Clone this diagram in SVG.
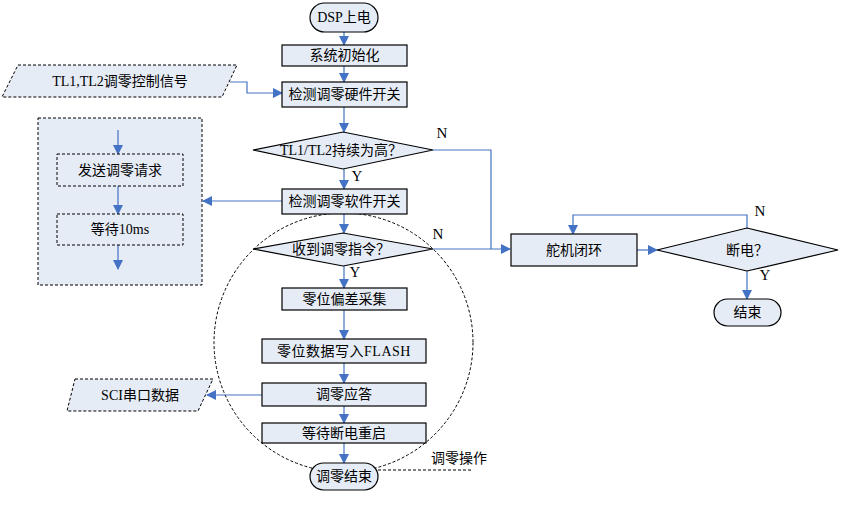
<svg xmlns="http://www.w3.org/2000/svg" width="857" height="508" viewBox="0 0 857 508">
<defs>
<marker id="ah" markerWidth="10" markerHeight="10" refX="9" refY="5" orient="auto" markerUnits="userSpaceOnUse">
<path d="M0,0 L10,5 L0,10 Z" fill="#4472C4"/>
</marker>
<style>
.n{fill:#E6ECF6;stroke:#000;stroke-width:1.2}
.d{fill:#E6ECF6;stroke:#000;stroke-width:1;stroke-dasharray:3,2}
.c{fill:none;stroke:#4472C4;stroke-width:1.2}
.a{marker-end:url(#ah)}
text{font-family:"Liberation Serif","Noto Sans CJK SC",serif;font-size:14px;fill:#000;text-anchor:middle;dominant-baseline:central}
.l{font-size:15px}
</style>
</defs>
<rect width="857" height="508" fill="#fff"/>
<g id="zero-region">
<circle cx="343.5" cy="342.5" r="129.5" fill="none" stroke="#000" stroke-width="1" stroke-dasharray="3,2"/>
<line x1="378" y1="470" x2="473" y2="470" stroke="#000" stroke-width="1" stroke-dasharray="3,2"/>
<text x="459" y="458">调零操作</text>
</g>
<g id="left-box">
<rect class="d" x="38" y="118" width="164" height="167"/>
</g>
<g id="connectors">
<path class="c a" d="M344,32 V45"/>
<path class="c a" d="M344,66 V82"/>
<path class="c a" d="M230,82 H247 V93 H282"/>
<path class="c a" d="M344,107 V132"/>
<path class="c a" d="M344,169 V189"/>
<path class="c a" d="M282,201 H203"/>
<path class="c a" d="M344,214 V233"/>
<path class="c" d="M433,150 H491 V249"/>
<path class="c a" d="M433,249 H510"/>
<path class="c a" d="M344,266 V288"/>
<path class="c a" d="M344,310 V339"/>
<path class="c a" d="M344,363 V383"/>
<path class="c a" d="M262,395 H207"/>
<path class="c a" d="M344,406 V423"/>
<path class="c a" d="M344,443 V463"/>
<path class="c a" d="M637,250 H657"/>
<path class="c a" d="M747,228 V215 H573 V234"/>
<path class="c a" d="M747,271 V299"/>
<path class="c a" d="M118,130 V154"/>
<path class="c a" d="M118,186 V214"/>
<path class="c a" d="M118,245 V269"/>
<text class="l" x="442" y="133">N</text>
<text class="l" x="357" y="176">Y</text>
<text class="l" x="438" y="234">N</text>
<text class="l" x="355" y="272">Y</text>
<text class="l" x="760" y="211">N</text>
<text class="l" x="765" y="275">Y</text>
</g>
<g id="start">
<rect class="n" x="310" y="3" width="68" height="29" rx="14.5"/>
<text x="344" y="17.5">DSP上电</text>
</g>
<g id="init">
<rect class="n" x="282" y="45" width="125" height="21"/>
<text x="344.5" y="55.5">系统初始化</text>
</g>
<g id="hw-switch">
<rect class="n" x="282" y="82" width="125" height="25"/>
<text x="344.5" y="94.5">检测调零硬件开关</text>
</g>
<g id="tl-signal">
<polygon class="d" points="18,65 237,65 222,97 2,97"/>
<text x="120" y="81">TL1,TL2调零控制信号</text>
</g>
<g id="tl-high">
<polygon class="n" points="253,150 343,132 433,150 343,169"/>
<text x="341" y="150.5">TL1/TL2持续为高？</text>
</g>
<g id="sw-switch">
<rect class="n" x="282" y="189" width="125" height="25"/>
<text x="344.5" y="201.5">检测调零软件开关</text>
</g>
<g id="send-req">
<rect class="d" x="57" y="154" width="126" height="32"/>
<text x="120" y="170">发送调零请求</text>
</g>
<g id="wait10">
<rect class="d" x="57" y="214" width="126" height="31"/>
<text x="120" y="229.5">等待10ms</text>
</g>
<g id="recv-cmd">
<polygon class="n" points="253,249 343,233 433,249 343,266"/>
<text x="341" y="249.5">收到调零指令？</text>
</g>
<g id="collect">
<rect class="n" x="282" y="288" width="125" height="22"/>
<text x="344.5" y="299">零位偏差采集</text>
</g>
<g id="flash">
<rect class="n" x="262" y="339" width="164" height="24"/>
<text x="344" y="351" letter-spacing="0.5">零位数据写入FLASH</text>
</g>
<g id="answer">
<rect class="n" x="262" y="383" width="164" height="23"/>
<text x="344" y="394.5">调零应答</text>
</g>
<g id="sci">
<polygon class="d" points="75,379 213,379 198,411 67,411"/>
<text x="140" y="395">SCI串口数据</text>
</g>
<g id="restart">
<rect class="n" x="262" y="423" width="164" height="20"/>
<text x="344" y="433">等待断电重启</text>
</g>
<g id="zero-end">
<rect class="n" x="310" y="463" width="68" height="27" rx="13.5"/>
<text x="344" y="476.5">调零结束</text>
</g>
<g id="servo">
<rect class="n" x="511" y="234" width="126" height="32"/>
<text x="574" y="250">舵机闭环</text>
</g>
<g id="power-off">
<polygon class="n" points="657,250 747,228 838,250 747,271"/>
<text x="747" y="250">断电？</text>
</g>
<g id="end">
<rect class="n" x="714" y="299" width="67" height="27" rx="13.5"/>
<text x="747.5" y="312.5">结束</text>
</g>
</svg>
